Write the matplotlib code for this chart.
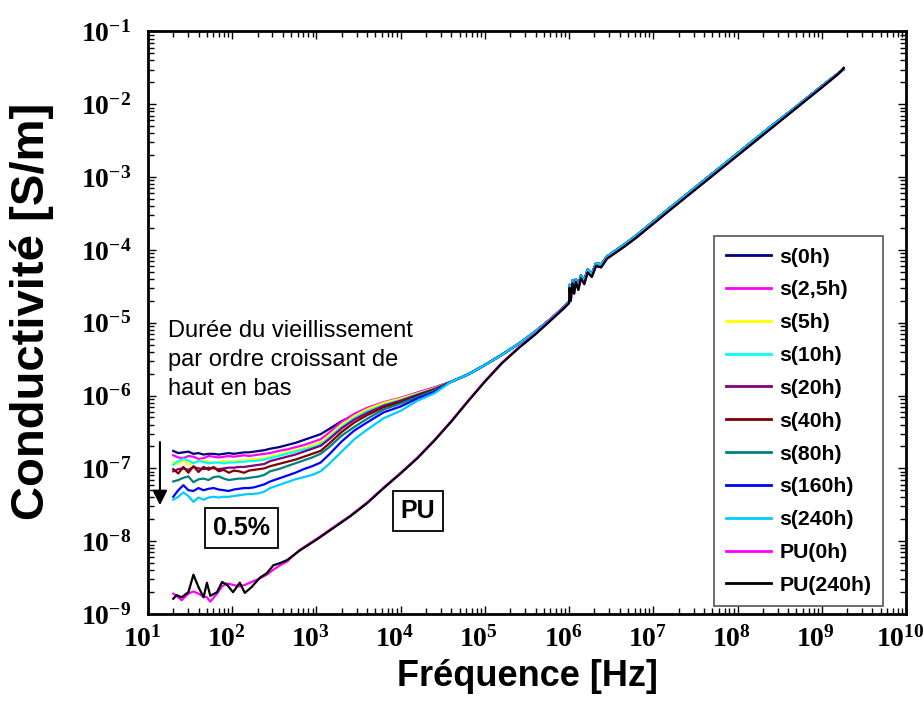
import numpy as np
import matplotlib
matplotlib.use('Agg')
import matplotlib.pyplot as plt
import matplotlib.transforms as mtransforms
from matplotlib.ticker import LogLocator, LogFormatterMathtext, NullFormatter

# all values are log10 (frequency in Hz, conductivity in S/m)

# low frequency part of the silica curves
f_low = [1.30, 1.36, 1.42, 1.48, 1.54, 1.60, 1.66, 1.72, 1.78, 1.84, 1.90, 1.96,
         2.02, 2.08, 2.14, 2.20, 2.26, 2.32, 2.38, 2.45, 2.55, 2.65, 2.75, 2.85,
         2.95, 3.05, 3.15, 3.30, 3.45, 3.60, 3.80, 4.00, 4.20, 4.40]

s_0h = [-6.76, -6.79, -6.78, -6.77, -6.80, -6.79, -6.81, -6.80, -6.80, -6.81, -6.80, -6.79,
        -6.80, -6.79, -6.78, -6.78, -6.77, -6.76, -6.75, -6.73, -6.71, -6.68, -6.65, -6.61,
        -6.57, -6.53, -6.46, -6.35, -6.27, -6.20, -6.11, -6.04, -5.96, -5.89]
s_2h5 = [-6.82, -6.85, -6.86, -6.83, -6.84, -6.87, -6.86, -6.83, -6.84, -6.85, -6.84, -6.83,
         -6.84, -6.83, -6.82, -6.83, -6.82, -6.81, -6.80, -6.79, -6.76, -6.74, -6.71, -6.68,
         -6.64, -6.60, -6.51, -6.36, -6.25, -6.17, -6.09, -6.03, -5.96, -5.89]
s_5h = [-6.91, -6.94, -6.88, -6.95, -6.92, -6.90, -6.89, -6.91, -6.93, -6.91, -6.90, -6.91,
        -6.90, -6.89, -6.89, -6.88, -6.87, -6.87, -6.86, -6.84, -6.81, -6.78, -6.75, -6.72,
        -6.68, -6.64, -6.55, -6.40, -6.28, -6.19, -6.10, -6.04, -5.97, -5.90]
s_10h = [-6.95, -6.90, -6.87, -6.89, -6.93, -6.90, -6.91, -6.93, -6.92, -6.92, -6.93, -6.92,
         -6.92, -6.91, -6.91, -6.90, -6.90, -6.89, -6.88, -6.86, -6.83, -6.80, -6.77, -6.74,
         -6.71, -6.67, -6.58, -6.43, -6.31, -6.22, -6.13, -6.06, -5.98, -5.91]
s_20h = [-7.04, -7.01, -7.00, -7.02, -6.98, -7.00, -7.01, -6.99, -7.00, -7.01, -7.00, -6.99,
         -6.99, -6.98, -6.98, -6.97, -6.96, -6.95, -6.94, -6.90, -6.87, -6.84, -6.81, -6.77,
         -6.73, -6.69, -6.60, -6.45, -6.33, -6.24, -6.14, -6.07, -5.99, -5.91]
s_40h = [-7.01, -7.07, -6.98, -7.06, -6.97, -7.05, -6.98, -7.02, -6.98, -7.04, -7.02, -7.06,
         -7.03, -7.04, -7.06, -7.03, -7.02, -7.01, -7.00, -6.97, -6.94, -6.91, -6.88, -6.84,
         -6.80, -6.76, -6.66, -6.50, -6.37, -6.27, -6.16, -6.09, -6.00, -5.92]
s_80h = [-7.18, -7.16, -7.13, -7.11, -7.19, -7.15, -7.14, -7.16, -7.12, -7.11, -7.14, -7.16,
         -7.15, -7.14, -7.14, -7.13, -7.12, -7.11, -7.09, -7.04, -7.01, -6.97, -6.93, -6.89,
         -6.85, -6.80, -6.71, -6.55, -6.43, -6.32, -6.19, -6.11, -6.02, -5.93]
s_160h = [-7.39, -7.30, -7.23, -7.30, -7.31, -7.27, -7.30, -7.28, -7.27, -7.29, -7.30, -7.31,
          -7.29, -7.28, -7.27, -7.27, -7.26, -7.24, -7.22, -7.18, -7.14, -7.10, -7.06, -7.01,
          -6.97, -6.92, -6.81, -6.63, -6.48, -6.37, -6.23, -6.15, -6.04, -5.95]
s_240h = [-7.43, -7.39, -7.33, -7.38, -7.46, -7.40, -7.43, -7.40, -7.39, -7.40, -7.39, -7.39,
          -7.38, -7.37, -7.36, -7.35, -7.35, -7.34, -7.32, -7.27, -7.23, -7.19, -7.15, -7.12,
          -7.09, -7.04, -6.94, -6.77, -6.60, -6.47, -6.31, -6.21, -6.07, -5.97]

# high frequency part, where all silica curves overlap
f_high = [4.60, 4.80, 5.00, 5.20, 5.40, 5.60, 5.80, 5.95, 6.00, 6.005, 6.02, 6.04,
          6.06, 6.08, 6.11, 6.14, 6.18, 6.22, 6.27, 6.32, 6.38, 6.45, 6.55, 6.65,
          6.80, 7.00, 7.20, 7.50, 7.80, 8.10, 8.40, 8.70, 9.00, 9.20, 9.26]
s_high = [-5.81, -5.71, -5.58, -5.44, -5.29, -5.12, -4.93, -4.77, -4.71, -4.48, -4.62, -4.42,
          -4.55, -4.40, -4.50, -4.35, -4.42, -4.27, -4.33, -4.18, -4.20, -4.09, -4.01, -3.93,
          -3.80, -3.61, -3.42, -3.14, -2.86, -2.58, -2.30, -2.03, -1.75, -1.57, -1.52]

# pure PU
f_pu = [1.30, 1.34, 1.40, 1.48, 1.54, 1.60, 1.66, 1.70, 1.74, 1.82, 1.88, 1.94,
        2.01, 2.09, 2.15, 2.23, 2.33, 2.41, 2.49, 2.57, 2.65, 2.80, 3.00, 3.20,
        3.40, 3.60, 3.80, 4.00, 4.20, 4.40, 4.60, 4.80, 5.00, 5.20, 5.40, 5.60,
        5.80, 5.95]
pu_0h = [-8.72, -8.75, -8.81, -8.72, -8.69, -8.72, -8.76, -8.77, -8.83, -8.72, -8.62, -8.58,
         -8.60, -8.62, -8.60, -8.56, -8.51, -8.46, -8.39, -8.33, -8.28, -8.12, -7.97, -7.81,
         -7.65, -7.47, -7.26, -7.06, -6.85, -6.61, -6.35, -6.07, -5.80, -5.55, -5.34, -5.15,
         -4.94, -4.78]
pu_240h = [-8.79, -8.74, -8.77, -8.70, -8.46, -8.63, -8.77, -8.57, -8.75, -8.70, -8.56, -8.60,
           -8.70, -8.57, -8.71, -8.63, -8.50, -8.44, -8.33, -8.30, -8.26, -8.13, -7.98, -7.82,
           -7.66, -7.48, -7.27, -7.07, -6.86, -6.62, -6.36, -6.08, -5.81, -5.56, -5.35, -5.16,
           -4.95, -4.79]
f_pu_high = f_high[8:]
pu_high = [-4.73, -4.52, -4.70, -4.46, -4.60, -4.44, -4.55, -4.39, -4.47, -4.31, -4.37, -4.22,
           -4.24, -4.12, -4.04, -3.96, -3.83, -3.64, -3.45, -3.17, -2.89, -2.61, -2.33, -2.05,
           -1.77, -1.58, -1.50]

labels = ['s(0h)', 's(2,5h)', 's(5h)', 's(10h)', 's(20h)', 's(40h)', 's(80h)',
          's(160h)', 's(240h)', 'PU(0h)', 'PU(240h)']
colors = ['#000080', '#ff00ff', '#ffff00', '#00ffff', '#800080', '#800000', '#008080',
          '#0000ff', '#00ccff', '#ff00ff', '#000000']

plt.rcParams['font.family'] = ['Liberation Serif']
plt.rcParams['font.weight'] = 'bold'
plt.rcParams['axes.unicode_minus'] = False

fig = plt.figure(figsize=(9.23, 7.04), dpi=100)
ax = fig.add_axes([0.1603, 0.1278, 0.8213, 0.8275])
ax.set_xscale('log')
ax.set_yscale('log')

silica = [s_0h, s_2h5, s_5h, s_10h, s_20h, s_40h, s_80h, s_160h, s_240h]
for vals, lab, col in zip(silica, labels[:9], colors[:9]):
    x = 10 ** np.array(f_low + f_high)
    y = 10 ** np.array(vals + s_high)
    ax.plot(x, y, color=col, lw=1.6, label=lab)

for vals, lab, col in zip([pu_0h, pu_240h], labels[9:], colors[9:]):
    x = 10 ** np.array(f_pu + f_pu_high)
    y = 10 ** np.array(vals + pu_high)
    ax.plot(x, y, color=col, lw=1.6, label=lab)

ax.set_xlim(1e1, 1e10)
ax.set_ylim(1e-9, 1e-1)

for a in (ax.xaxis, ax.yaxis):
    a.set_major_locator(LogLocator(base=10, numticks=20))
    a.set_minor_locator(LogLocator(base=10, subs=np.arange(2, 10), numticks=20))
    a.set_major_formatter(LogFormatterMathtext())
    a.set_minor_formatter(NullFormatter())
ax.tick_params(which='both', direction='in', top=True, right=True, width=1.0,
               labelsize=20)
ax.tick_params(which='major', length=6)
ax.tick_params(which='minor', length=4)
ax.tick_params(axis='x', which='major', pad=9)
ax.tick_params(axis='y', which='major', pad=12)
for sp in ax.spines.values():
    sp.set_linewidth(2.0)

# x tick labels sit a little left of their ticks in the original
shift = mtransforms.ScaledTranslation(-0.06, 0, fig.dpi_scale_trans)
for lab in ax.xaxis.get_majorticklabels():
    lab.set_transform(lab.get_transform() + shift)

ax.set_xlabel('Fréquence [Hz]', fontsize=26, fontfamily='Liberation Sans',
              fontweight='bold')
ax.xaxis.set_label_coords(0.5, -0.077)
ax.set_ylabel('Conductivité [S/m]', fontsize=34, fontfamily='Liberation Sans',
              fontweight='bold')
ax.yaxis.set_label_coords(-0.124, 0.52)

ax.text(0.026, 0.505, 'Durée du vieillissement\npar ordre croissant de\nhaut en bas',
        transform=ax.transAxes, fontsize=17, fontfamily='Liberation Sans',
        fontweight='normal', va='top', ha='left', linespacing=1.42)

ax.annotate('', xy=(0.0158, 0.182), xytext=(0.0158, 0.30),
            xycoords='axes fraction', textcoords='axes fraction',
            arrowprops=dict(arrowstyle='-|>', color='black', lw=1.5,
                            mutation_scale=22))

box = dict(boxstyle='square,pad=0.32', facecolor='white', edgecolor='black', lw=1.3)
ax.text(0.1233, 0.1476, '0.5%', transform=ax.transAxes, fontsize=18,
        fontfamily='Liberation Sans', fontweight='bold', ha='center', va='center',
        bbox=box)
ax.text(0.356, 0.1768, 'PU', transform=ax.transAxes, fontsize=18,
        fontfamily='Liberation Sans', fontweight='bold', ha='center', va='center',
        bbox=box)

leg = ax.legend(loc='upper left', bbox_to_anchor=(0.747, 0.649), borderaxespad=0,
                prop={'family': 'Liberation Sans', 'weight': 'bold', 'size': 15.3},
                fancybox=False, framealpha=1, handlelength=2.1, handletextpad=0.42,
                labelspacing=0.65, borderpad=0.55)
leg.get_frame().set_edgecolor('#555555')
leg.get_frame().set_linewidth(1.2)
for line in leg.get_lines():
    line.set_linewidth(2.0)

fig.savefig('out.png', dpi=100)
